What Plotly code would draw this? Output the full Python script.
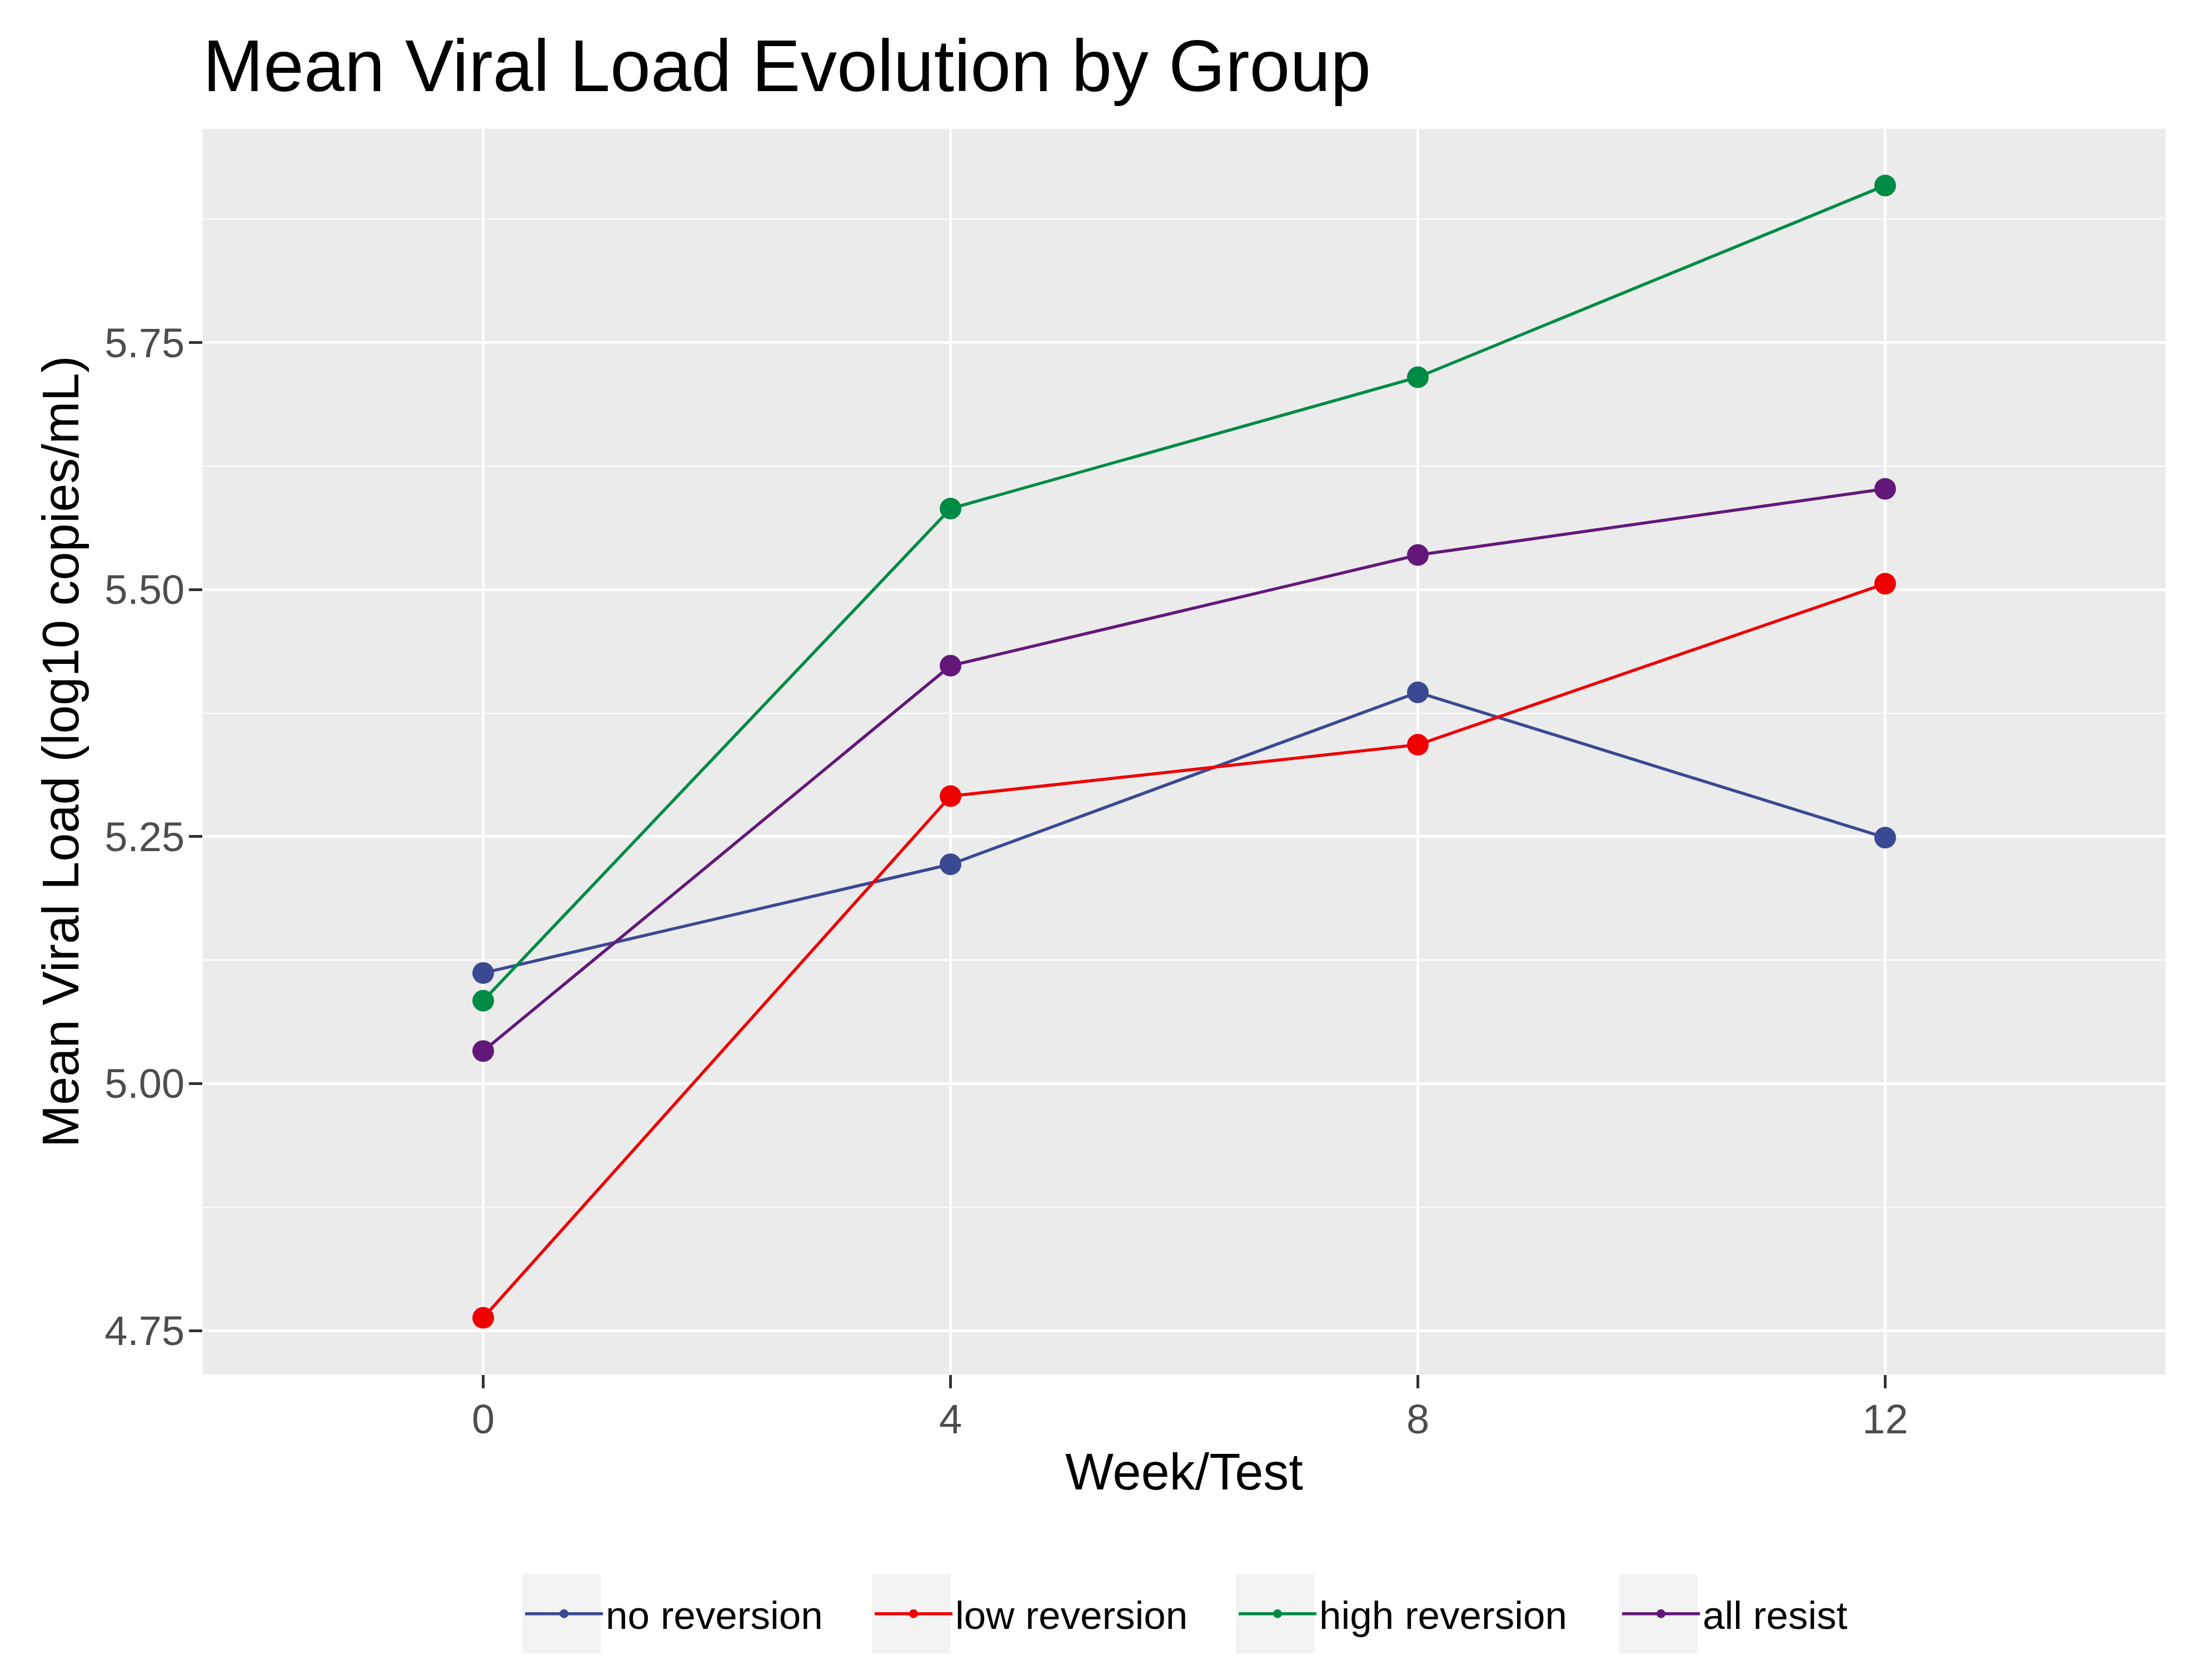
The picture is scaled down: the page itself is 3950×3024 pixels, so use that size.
import plotly.graph_objects as go

weeks = [0, 4, 8, 12]
week_labels = ["0", "4", "8", "12"]

groups = ["no reversion", "low reversion", "high reversion", "all resist"]
colors = ["#3B4992", "#EE0000", "#008B45", "#631879"]

no_reversion = [5.112, 5.222, 5.396, 5.249]
low_reversion = [4.763, 5.291, 5.343, 5.506]
high_reversion = [5.084, 5.582, 5.715, 5.909]
all_resist = [5.033, 5.423, 5.535, 5.602]

series = [no_reversion, low_reversion, high_reversion, all_resist]

y_ticks = [4.75, 5.00, 5.25, 5.50, 5.75]
y_tick_labels = ["4.75", "5.00", "5.25", "5.50", "5.75"]

FONT = "Liberation Sans, Arial, sans-serif"
# page body has an 8px margin; size the figure so the page frame is 3950x3024
W, H = 3942, 3016
L, R, T, B = 357, 53, 224, 550
PW = W - L - R
PH = H - T - B

# legend layout (page pixels): left edge of each grey key box
key_left_px = [940, 1569, 2224, 2914]
KEY_W, KEY_H = 141, 143
KEY_CY = 2905
ITEMW = 140

def px_to_paper_x(px):
    return (px - 8 - L) / PW

def py_to_paper_y(py):
    return ((H - B) - (py - 8)) / PH

legend_names = ["legend", "legend2", "legend3", "legend4"]

fig = go.Figure()
for name, vals, col, lg in zip(groups, series, colors, legend_names):
    fig.add_trace(go.Scatter(
        x=weeks, y=vals, name=name, mode="lines+markers",
        legend=lg,
        line=dict(color=col, width=5.5),
        marker=dict(color=col, size=39),
    ))

all_vals = [v for s in series for v in s]
lo, hi = min(all_vals), max(all_vals)
pad = 0.05 * (hi - lo)
step = weeks[1] - weeks[0]
xr = [weeks[0] - 0.6 * step, weeks[-1] + 0.6 * step]
minor_vals = [(a + b) / 2 for a, b in zip([y_ticks[0] - 0.25] + y_ticks, y_ticks + [y_ticks[-1] + 0.25])]

legend_layouts = {}
shapes = []
for lg, kl in zip(legend_names, key_left_px):
    legend_layouts[lg] = dict(
        orientation="h",
        x=px_to_paper_x(kl), xanchor="left",
        y=py_to_paper_y(KEY_CY), yanchor="middle",
        font=dict(family=FONT, size=71, color="black"),
        bgcolor="rgba(0,0,0,0)",
        itemwidth=ITEMW,
    )
    shapes.append(dict(
        type="rect", xref="paper", yref="paper", layer="below",
        x0=px_to_paper_x(kl), x1=px_to_paper_x(kl + KEY_W),
        y0=py_to_paper_y(KEY_CY - KEY_H / 2), y1=py_to_paper_y(KEY_CY + KEY_H / 2),
        fillcolor="#F2F2F2", line=dict(width=0),
    ))

fig.update_layout(
    width=W, height=H,
    margin=dict(l=L, r=R, t=T, b=B, autoexpand=False),
    paper_bgcolor="white",
    plot_bgcolor="#EBEBEB",
    font=dict(family=FONT, color="black", size=73),
    title=dict(
        text="Mean Viral Load Evolution by Group",
        font=dict(family=FONT, size=131, color="black"),
        xref="paper", x=0, xanchor="left",
        yref="container", y=1 - 110 / H, yanchor="middle",
    ),
    showlegend=True,
    shapes=shapes,
    xaxis=dict(
        range=xr,
        tickmode="array", tickvals=weeks, ticktext=week_labels,
        showgrid=True, gridcolor="white", gridwidth=4.5,
        zeroline=False, showline=False,
        ticks="outside", ticklen=24, tickwidth=4.5, tickcolor="#333333",
        tickfont=dict(family=FONT, size=74, color="#4D4D4D"),
        ticklabelstandoff=-8,
        title=dict(text="Week/Test", font=dict(family=FONT, size=92, color="black"), standoff=21),
        automargin=False,
    ),
    yaxis=dict(
        range=[lo - pad, hi + pad],
        tickmode="array", tickvals=y_ticks, ticktext=y_tick_labels,
        showgrid=True, gridcolor="white", gridwidth=4.5,
        minor=dict(tickmode="array", tickvals=minor_vals, showgrid=True, gridcolor="white", gridwidth=2.2, ticks=""),
        zeroline=False, showline=False,
        ticks="outside", ticklen=24, tickwidth=4.5, tickcolor="#333333",
        tickfont=dict(family=FONT, size=74, color="#4D4D4D"),
        ticklabelstandoff=-7,
        title=dict(text="Mean Viral Load (log10 copies/mL)", font=dict(family=FONT, size=92, color="black"), standoff=15),
        automargin=False,
    ),
    **legend_layouts,
)

fig.write_html("out.html")
